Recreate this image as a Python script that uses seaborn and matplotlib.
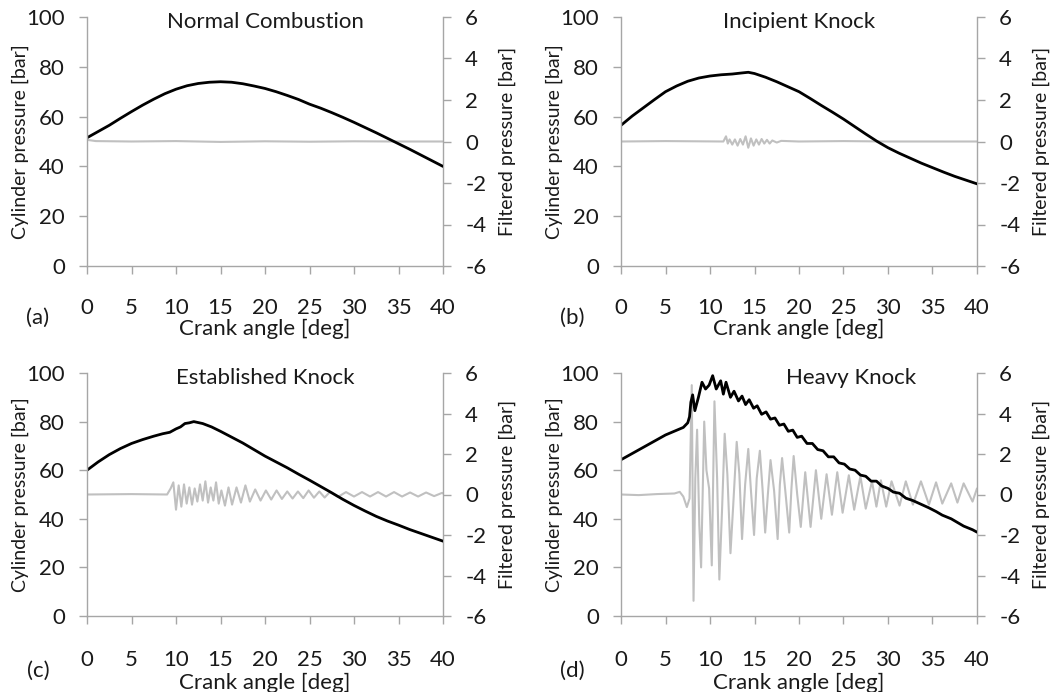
# knock_panels.py
import matplotlib
matplotlib.use("Agg")
import matplotlib.pyplot as plt
import seaborn as sns

# --- Datos (angulo en grados, presion en bar) ---

# (a) Normal Combustion
a_x = [0, 1.25, 2.5, 3.75, 5, 6.25, 7.5, 8.75, 10, 11.25,
       12.5, 13.75, 15, 16.25, 17.5, 18.75, 20, 21.25, 22.5, 23.75,
       25, 26.25, 27.5, 28.75, 30, 31.25, 32.5, 33.75, 35, 36.25,
       37.5, 38.75, 40]
a_cyl = [51.5, 54, 56.5, 59.3, 62, 64.6, 67, 69.2, 71, 72.4,
         73.3, 73.8, 74, 73.8, 73.2, 72.3, 71.3, 70, 68.5, 66.9,
         65, 63.4, 61.6, 59.7, 57.7, 55.6, 53.5, 51.3, 49.1, 46.9,
         44.6, 42.3, 40]
a_filt_x = [0, 1, 5, 10, 15, 20, 25, 30, 35, 40]
a_filt = [0.08, 0.02, 0, 0.02, -0.02, 0.01, -0.01, 0.01, 0, 0]

# (b) Incipient Knock
b_x = [0, 1.25, 2.5, 3.75, 5, 6.25, 7.5, 8.75, 10, 11.25,
       12.5, 13.5, 14.3, 15, 16.25, 17.5, 18.75, 20, 21.25, 22.5,
       23.75, 25, 26.25, 27.5, 28.75, 30, 31.25, 32.5, 33.75, 35,
       36.25, 37.5, 38.75, 40]
b_cyl = [56.5, 60.2, 63.5, 66.8, 70, 72.3, 74.2, 75.5, 76.3, 76.8,
         77.1, 77.5, 77.8, 77.3, 75.8, 74, 72, 70, 67.3, 64.5,
         61.8, 59, 56, 53, 50.1, 47.5, 45.3, 43.3, 41.3, 39.5,
         37.7, 36, 34.5, 33]
b_filt_x = [0, 5, 11.5, 11.8, 12.0, 12.2, 12.5, 12.8, 13.1, 13.4,
            13.7, 14.0, 14.3, 14.6, 14.9, 15.2, 15.5, 15.8, 16.1, 16.4,
            16.7, 17.0, 17.5, 18.0, 20, 25, 30, 35, 40]
b_filt = [0, 0.02, 0, 0.25, -0.1, 0.1, -0.15, 0.1, -0.2, 0.12,
          -0.15, 0.25, -0.3, 0.15, -0.2, 0.1, -0.15, 0.12, -0.1, 0.08,
          -0.1, 0.05, -0.05, 0.03, 0, 0.02, 0, 0, 0]

# (c) Established Knock
c_x = [0, 1.25, 2.5, 3.75, 5, 6.25, 7.5, 8.5, 9.3, 10,
       10.5, 11, 11.5, 12, 12.5, 13, 14, 15, 16.25, 17.5,
       18.75, 20, 21.25, 22.5, 23.75, 25, 26.25, 27.5, 28.75, 30,
       31.25, 32.5, 33.75, 35, 36.25, 37.5, 38.75, 40]
c_cyl = [60, 63.4, 66.4, 68.9, 71, 72.6, 74, 75, 75.6, 77,
         77.8, 79.2, 79.5, 80, 79.6, 79.2, 77.8, 76, 73.6, 71.2,
         68.5, 65.8, 63.4, 61, 58.4, 55.9, 53.3, 50.7, 48, 45.5,
         43.2, 41, 39.1, 37.4, 35.6, 34, 32.4, 30.8]
c_filt_x = [0, 5, 9.0, 9.4, 9.7, 10.0, 10.3, 10.6, 10.9, 11.2,
            11.5, 11.8, 12.1, 12.4, 12.7, 13.0, 13.3, 13.6, 13.9, 14.2,
            14.5, 14.8, 15.1, 15.5, 15.9, 16.3, 16.8, 17.3, 17.8, 18.3,
            18.9, 19.5, 20.1, 20.7, 21.3, 21.9, 22.5, 23.1, 23.7, 24.3,
            24.9, 25.5, 26.1, 26.7, 27.3, 28.2, 29.1, 30.0, 30.9, 31.8,
            32.7, 33.6, 34.5, 35.4, 36.3, 37.2, 38.1, 39.0, 39.9, 40]
c_filt = [0, 0.02, 0, 0.3, 0.6, -0.75, 0.45, -0.6, 0.5, -0.45,
          0.35, -0.5, 0.3, -0.35, 0.5, -0.3, 0.65, -0.4, 0.35, -0.3,
          0.6, -0.45, 0.2, -0.55, 0.35, -0.5, 0.35, -0.4, 0.45, -0.35,
          0.25, -0.3, 0.2, -0.25, 0.2, -0.22, 0.15, -0.2, 0.15, -0.18,
          0.2, -0.16, 0.15, -0.15, 0.13, -0.12, 0.12, -0.1, 0.12, -0.1,
          0.12, -0.1, 0.12, -0.1, 0.1, -0.1, 0.1, -0.08, 0.08, 0.05]

# (d) Heavy Knock
d_x = [0, 2.5, 5, 7, 7.5, 7.7, 7.85, 8.05, 8.3, 8.7,
       9.1, 9.5, 9.9, 10.3, 10.7, 11.2, 11.5, 11.8, 12.3, 12.7,
       13.2, 13.6, 14.0, 14.4, 14.9, 15.3, 15.8, 16.3, 16.8, 17.3,
       17.8, 18.3, 18.8, 19.3, 19.8, 20.3, 20.9, 21.5, 22.1, 22.7,
       23.3, 23.9, 24.5, 25.1, 25.7, 26.3, 26.9, 27.5, 28.1, 28.7,
       29.3, 30.0, 30.6, 31.3, 32.0, 32.8, 33.7, 34.6, 35.4, 36.1,
       37.1, 37.8, 38.5, 39.5, 40]
d_cyl = [64.3, 69.4, 74.5, 77.6, 79.5, 82, 88, 91, 84.5, 90,
         96.2, 93.4, 95, 98.9, 93.4, 96.8, 91.3, 96.2, 90, 92.5,
         88.5, 90.5, 87, 89, 85.5, 86.5, 83, 84, 81, 81.5,
         78.5, 79, 76, 76.5, 73.5, 74, 71, 71, 68.5, 68,
         65.5, 65.5, 63, 62.5, 60.5, 60, 58, 57.5, 55.5, 55.5,
         53.5, 52.5, 51, 50.5, 48.5, 47.5, 46, 44.5, 43, 41.5,
         40, 38.5, 37, 35.5, 34.5]
d_filt_x = [0, 2, 4, 6.0, 6.6, 7.0, 7.4, 7.7, 7.95, 8.15,
            8.35, 8.55, 8.8, 9.0, 9.35, 9.6, 9.9, 10.2, 10.5, 10.8,
            11.05, 11.35, 11.65, 11.95, 12.3, 12.6, 13.0, 13.3, 13.6, 13.95,
            14.3, 14.6, 14.95, 15.25, 15.6, 15.9, 16.2, 16.5, 16.8, 17.2,
            17.6, 17.85, 18.1, 18.5, 18.9, 19.15, 19.4, 19.8, 20.2, 20.7,
            21.3, 21.9, 22.5, 23.1, 23.7, 24.3, 24.9, 25.6, 26.2, 26.9,
            27.5, 28.2, 28.7, 29.2, 29.8, 30.4, 31.3, 32.0, 32.8, 33.7,
            34.6, 35.4, 36.1, 37.1, 37.8, 38.5, 39.5, 40]
d_filt = [0, -0.03, 0.02, 0.05, 0.13, -0.1, -0.62, -0.2, 5.4, -5.25,
          0.8, 3.2, -1.5, -3.6, 3.6, 1.2, 0.3, -3.5, 4.6, 0.8,
          -4.2, -0.8, 3.0, 1.0, -2.9, -0.6, 2.6, 1.0, -2.2, 0.5,
          2.25, 0.2, -2.0, 0.8, 2.16, 0.3, -1.88, 0.0, 1.7, 0.2,
          -2.2, 0.5, 1.8, 0.0, -1.88, 0.3, 1.9, 0.0, -1.6, 1.1,
          -1.6, 1.2, -1.2, 1.0, -1.0, 1.1, -0.9, 0.95, -0.75, 0.9,
          -0.7, 0.65, -0.6, 0.7, -0.6, 0.65, -0.55, 0.65, -0.5, 0.65,
          -0.5, 0.6, -0.45, 0.55, -0.4, 0.55, -0.35, 0.3]

titles = ["Normal Combustion", "Incipient Knock", "Established Knock", "Heavy Knock"]
letters = ["(a)", "(b)", "(c)", "(d)"]

# --- Estilo ---
sns.set_theme(style="white")
plt.rcParams["font.family"] = ["Lato", "DejaVu Sans"]
plt.rcParams["axes.unicode_minus"] = False
gris_eje = "#a6a6a6"
gris_linea = "#c0c0c0"
texto = "#1a1a1a"

fig = plt.figure(figsize=(10.62, 6.92), dpi=100)

W, H = 1062, 692
# posiciones en pixeles: (izq, arriba, der, abajo)
cajas = [(87, 17, 443, 266), (621, 17, 977, 266), (87, 373, 443, 616), (621, 373, 977, 616)]
series = [(a_x, a_cyl, a_filt_x, a_filt), (b_x, b_cyl, b_filt_x, b_filt),
          (c_x, c_cyl, c_filt_x, c_filt), (d_x, d_cyl, d_filt_x, d_filt)]
titulo_x = [0.5, 0.5, 0.5, 0.645]
pad_x = [17, 17, 18.5, 18.5]
pad_lab = [0.5, 0.5, 2, 2]
letra_dy = [52, 52, 55, 55]

for i, (caja, (xc, yc, xf, yf)) in enumerate(zip(cajas, series)):
    l, t, r, b = caja
    ax = fig.add_axes([l / W, 1 - b / H, (r - l) / W, (b - t) / H])
    ax2 = ax.twinx()

    sns.lineplot(x=xf, y=yf, ax=ax2, color=gris_linea, linewidth=1.5, errorbar=None)
    sns.lineplot(x=xc, y=yc, ax=ax, color="black", linewidth=2.0, errorbar=None)

    # curva negra por encima de la gris
    ax.set_zorder(ax2.get_zorder() + 1)
    ax.patch.set_visible(False)

    ax.set_xlim(0, 40)
    ax.set_ylim(0, 100)
    ax2.set_ylim(-6, 6)
    ax.set_xticks(range(0, 41, 5))
    ax.set_yticks(range(0, 101, 20))
    ax2.set_yticks(range(-6, 7, 2))

    for s in ["top", "right"]:
        ax.spines[s].set_visible(False)
    for s in ["top", "left", "bottom"]:
        ax2.spines[s].set_visible(False)
    for sp in [ax.spines["left"], ax.spines["bottom"], ax2.spines["right"]]:
        sp.set_color(gris_eje)
        sp.set_linewidth(1.0)

    ax.tick_params(axis="y", direction="out", length=6, width=1, color=gris_eje,
                   labelsize=16, labelcolor=texto, pad=10, left=True)
    ax.tick_params(axis="x", direction="out", length=6, width=1, color=gris_eje,
                   labelsize=16, labelcolor=texto, pad=pad_x[i], bottom=True)
    ax2.tick_params(axis="y", direction="out", length=6, width=1, color=gris_eje,
                    labelsize=16, labelcolor=texto, pad=10, right=True)

    ax.set_xlabel("Crank angle [deg]", fontsize=16, color=texto, labelpad=pad_lab[i])
    ax.set_ylabel("Cylinder pressure [bar]", fontsize=14, color=texto, labelpad=-2)
    ax2.set_ylabel("Filtered pressure [bar]", fontsize=14, color=texto, labelpad=9)

    ax.text(titulo_x[i], 0.98, titles[i], transform=ax.transAxes, ha="center",
            va="center", fontsize=16, color=texto)
    fig.text((l - 49) / W, 1 - (b + letra_dy[i]) / H, letters[i], ha="center",
             va="center", fontsize=16, color=texto)

plt.savefig("out.png", dpi=100)
